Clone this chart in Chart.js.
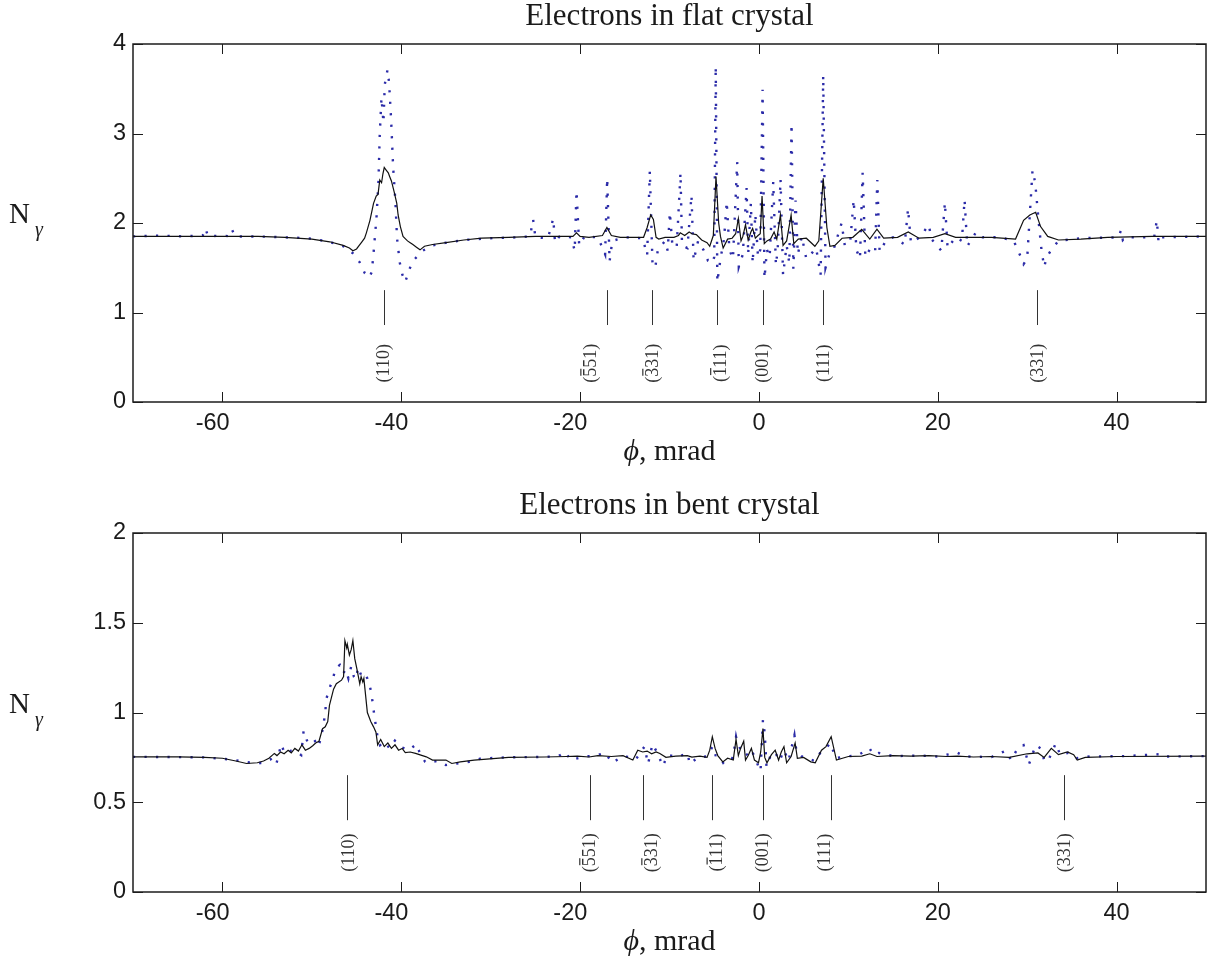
<!DOCTYPE html>
<html>
<head>
<meta charset="utf-8">
<script src="https://cdn.jsdelivr.net/npm/chart.js@4.4.1/dist/chart.umd.min.js"></script>
<style>
  html, body { margin: 0; padding: 0; background: #fff; }
  #wrap { position: relative; width: 1208px; height: 960px; }
  .panel { position: absolute; left: 0; width: 1208px; height: 480px; }
  #top { top: 0; }
  #bot { top: 480px; }
</style>
</head>
<body>
<div id="wrap">
  <div class="panel" id="top"><canvas id="flat" width="1208" height="480"></canvas></div>
  <div class="panel" id="bot"><canvas id="bent" width="1208" height="480"></canvas></div>
</div>
<script>
// axis ticks
const xTicks = [-60, -40, -20, 0, 20, 40];
const flatYTicks = [0, 1, 2, 3, 4];
const bentYTicks = [0, 0.5, 1, 1.5, 2];

// crystal planes, same order in both panels
const planeNames = ['(110)', '(551)', '(331)', '(111)', '(001)', '(111)', '(331)'];
const planeBars = [-1, 1, 1, 1, -1, -1, -1];   // char index carrying an overbar
const flatPlaneX = [-41.95, -17.0, -12.0, -4.72, 0.45, 7.22, 31.07];
const flatLabelX = [-41.87, -18.75, -11.82, -4.23, 0.53, 7.33, 31.23];
const bentPlaneX = [-46.03, -18.94, -12.97, -5.22, 0.45, 8.08, 34.08];
const bentLabelX = [-45.83, -18.87, -11.93, -4.63, 0.53, 7.37, 34.28];

// flat crystal: solid (black) and dotted (blue) curves, [phi, N]
const flatLine = [
  [-70,1.85],[-65,1.85],[-60,1.85],[-56,1.85],[-53,1.84],[-50,1.82],[-48,1.79],[-46.5,1.75],
  [-45.8,1.72],[-45.4,1.69],[-45.0,1.71],[-44.7,1.75],[-44.4,1.79],[-44.1,1.83],[-43.9,1.89],
  [-43.5,2.03],[-43.1,2.22],[-42.8,2.30],[-42.6,2.32],[-42.4,2.48],[-42.2,2.45],[-42.05,2.55],
  [-41.9,2.62],[-41.75,2.60],[-41.6,2.58],[-41.45,2.56],[-41.3,2.52],[-41.1,2.47],[-40.8,2.35],
  [-40.5,2.22],[-40.35,2.09],[-40.1,1.96],[-39.8,1.85],[-39.5,1.82],[-39.3,1.80],[-39.0,1.78],
  [-38.7,1.76],[-38.3,1.73],[-37.9,1.70],[-37.4,1.74],[-36.5,1.76],[-35,1.78],[-33,1.81],
  [-31,1.83],[-28,1.84],[-25,1.85],[-22,1.85],[-20.8,1.85],[-20.4,1.89],[-20.0,1.85],[-19,1.84],
  [-17.5,1.86],[-17.0,1.95],[-16.5,1.86],[-15.5,1.84],[-14,1.84],[-12.9,1.84],[-12.5,1.95],
  [-12.1,2.09],[-11.8,2.04],[-11.5,1.84],[-11.2,1.82],[-10.5,1.84],[-9.5,1.84],[-9.0,1.86],
  [-8.8,1.89],[-8.3,1.86],[-7.8,1.90],[-7.5,1.88],[-7.0,1.87],[-6.4,1.81],[-5.8,1.78],[-5.5,1.74],
  [-5.1,1.86],[-4.8,2.52],[-4.5,2.0],[-4.3,1.85],[-4.0,1.72],[-3.5,1.82],[-3.0,1.83],[-2.6,1.88],
  [-2.3,2.05],[-2.0,1.80],[-1.8,1.85],[-1.5,1.98],[-1.2,1.81],[-0.9,1.90],[-0.7,1.94],[-0.4,1.83],
  [-0.1,1.86],[0.15,1.88],[0.35,2.30],[0.6,1.77],[0.9,1.80],[1.3,1.82],[1.7,1.90],[2.0,1.82],
  [2.4,2.09],[2.7,1.75],[3.1,1.80],[3.6,2.09],[3.9,1.77],[4.4,1.82],[5.3,1.83],[6.26,1.74],
  [6.7,1.80],[7.19,2.50],[7.6,1.95],[7.94,1.74],[8.5,1.75],[9.3,1.83],[10.5,1.84],[11.5,1.93],
  [12.4,1.82],[13.2,1.93],[13.95,1.83],[15.5,1.84],[16.7,1.90],[17.9,1.83],[19.5,1.84],[20.8,1.88],
  [22,1.84],[24,1.84],[26,1.84],[28.7,1.82],[29.6,2.03],[30.3,2.09],[30.95,2.12],[31.5,1.96],
  [32.3,1.85],[33.5,1.81],[36,1.82],[39,1.84],[44,1.85],[50,1.85]
];
const flatDots = [
  [-70,1.85],[-67,1.86],[-64.5,1.85],[-62.2,1.86],[-61.9,1.94],[-61.6,1.85],[-60,1.86],[-59.1,1.85],
  [-58.9,1.92],[-58.6,1.85],[-56,1.85],[-53,1.84],[-50.5,1.83],[-48.5,1.80],[-47,1.76],[-46.2,1.73],
  [-45.4,1.66],[-44.64,1.56],[-44.08,1.44],[-43.6,1.39],[-43.3,1.45],[-43.1,1.66],[-42.77,2.06],
  [-42.55,2.46],[-42.4,3.0],[-42.21,3.40],[-41.99,3.12],[-41.84,3.55],[-41.54,3.71],[-41.36,3.57],
  [-41.14,3.17],[-40.91,2.63],[-40.65,2.23],[-40.47,1.83],[-40.17,1.56],[-39.9,1.43],[-39.55,1.34],
  [-39.3,1.42],[-39.16,1.47],[-38.56,1.59],[-37.6,1.69],[-36.5,1.75],[-35,1.78],[-33,1.81],
  [-30,1.83],[-27,1.84],[-25.6,1.85],[-25.25,2.04],[-25.0,1.84],[-23.6,1.83],[-23.0,2.05],
  [-22.8,1.78],[-22.3,1.85],[-21,1.84],[-20.6,1.69],[-20.4,2.36],[-20.1,1.75],[-19.5,1.85],
  [-18.0,1.84],[-17.2,1.65],[-16.97,2.50],[-16.7,1.57],[-16.4,1.80],[-15,1.84],[-13,1.83],
  [-12.5,1.64],[-12.2,2.58],[-11.9,1.54],[-11.6,1.50],[-11.3,1.70],[-10.5,1.80],[-10.2,1.69],
  [-9.96,2.12],[-9.7,1.78],[-9.2,1.72],[-8.77,2.56],[-8.6,1.75],[-8.0,1.72],[-7.54,2.31],
  [-7.3,1.58],[-6.8,1.80],[-6.2,1.70],[-5.7,1.58],[-5.2,1.55],[-5.0,1.62],[-4.83,3.75],
  [-4.65,1.34],[-4.3,1.60],[-3.9,1.82],[-3.6,2.24],[-3.3,1.70],[-2.9,1.60],[-2.43,2.68],
  [-2.25,1.51],[-1.8,1.65],[-1.38,2.39],[-1.2,1.65],[-0.9,2.22],[-0.7,1.55],[-0.4,2.10],
  [-0.1,1.62],[0.15,1.70],[0.41,3.49],[0.62,1.38],[0.9,1.70],[1.2,1.62],[1.6,2.46],[1.9,1.53],
  [2.1,1.70],[2.42,2.49],[2.7,1.42],[3.1,1.75],[3.4,1.55],[3.65,3.11],[3.85,1.49],[4.1,2.25],
  [4.35,1.65],[4.8,1.85],[5.3,1.60],[5.8,1.65],[6.4,1.72],[6.9,1.42],[7.19,3.65],[7.45,1.50],
  [7.9,1.66],[8.4,1.72],[9.25,2.0],[9.6,1.75],[10.2,1.78],[10.6,2.26],[10.9,1.70],[11.3,1.60],
  [11.6,2.56],[11.9,1.62],[12.5,1.72],[13.0,1.68],[13.24,2.48],[13.5,1.68],[14.2,1.80],[15,1.84],
  [16.3,1.76],[16.68,2.16],[17.0,1.78],[18,1.84],[19.0,1.98],[19.3,1.82],[20.4,1.69],[20.8,2.23],
  [21.1,1.72],[22,1.84],[22.7,1.80],[23.0,2.26],[23.3,1.74],[24.3,1.90],[25,1.84],[27,1.84],
  [28.5,1.80],[29.3,1.62],[29.6,1.54],[30.0,1.60],[30.3,2.10],[30.6,2.59],[30.9,2.45],[31.3,2.00],
  [31.6,1.70],[31.9,1.51],[32.2,1.62],[32.7,1.70],[33.5,1.80],[36,1.83],[40.2,1.84],[40.5,1.92],
  [40.7,1.81],[41,1.84],[44.2,1.84],[44.5,2.03],[44.7,1.78],[45,1.84],[50,1.85]
];

// bent crystal
const bentLine = [
  [-70,0.753],[-65,0.753],[-62,0.75],[-60,0.745],[-58.5,0.73],[-57.3,0.716],[-56.1,0.72],
  [-55.4,0.73],[-54.8,0.745],[-54.19,0.772],[-53.9,0.76],[-53.5,0.78],[-53.1,0.77],[-52.65,0.79],
  [-52.3,0.775],[-51.9,0.80],[-51.5,0.785],[-51.11,0.82],[-50.72,0.79],[-50.3,0.80],[-49.9,0.815],
  [-49.57,0.83],[-49.2,0.84],[-48.8,0.91],[-48.5,0.92],[-48.22,0.95],[-48.03,1.04],[-47.57,1.13],
  [-47.26,1.16],[-46.68,1.18],[-46.45,1.20],[-46.3,1.40],[-46.1,1.36],[-46.03,1.38],[-45.8,1.32],
  [-45.6,1.35],[-45.41,1.40],[-45.2,1.30],[-44.95,1.24],[-44.64,1.16],[-44.49,1.20],[-44.3,1.17],
  [-44.18,1.19],[-43.79,1.0],[-43.41,0.95],[-43.1,0.92],[-42.83,0.89],[-42.64,0.82],[-42.3,0.85],
  [-41.9,0.81],[-41.5,0.83],[-41.1,0.80],[-40.7,0.82],[-40.3,0.79],[-39.9,0.80],[-39.55,0.776],
  [-39,0.78],[-38.4,0.772],[-37.2,0.753],[-36.5,0.735],[-35.0,0.735],[-34.35,0.716],[-33.4,0.725],
  [-31.85,0.735],[-28,0.75],[-24,0.752],[-21.5,0.755],[-20.3,0.757],[-19,0.752],[-18,0.76],
  [-16.5,0.755],[-15.2,0.76],[-14.1,0.735],[-13.55,0.79],[-13.0,0.78],[-12.5,0.785],[-12,0.77],
  [-11.5,0.78],[-11.08,0.772],[-10.4,0.75],[-9.3,0.757],[-8.0,0.76],[-7.5,0.752],[-6.6,0.757],
  [-5.8,0.75],[-5.5,0.79],[-5.21,0.865],[-4.9,0.80],[-4.6,0.76],[-4.04,0.725],[-3.5,0.745],
  [-2.87,0.735],[-2.56,0.85],[-2.3,0.76],[-2.05,0.80],[-1.7,0.84],[-1.5,0.735],[-1.2,0.76],
  [-0.84,0.80],[-0.5,0.735],[-0.05,0.72],[0.2,0.78],[0.45,0.91],[0.65,0.75],[0.9,0.72],[1.4,0.765],
  [1.82,0.79],[2.2,0.735],[2.5,0.78],[2.8,0.81],[3.1,0.72],[3.6,0.755],[4.05,0.83],[4.3,0.745],
  [5.0,0.75],[5.8,0.725],[6.3,0.72],[7.0,0.79],[7.5,0.81],[8.08,0.865],[8.67,0.735],[10,0.755],
  [11.5,0.757],[12.4,0.77],[13.2,0.755],[15,0.76],[17,0.757],[19,0.76],[21,0.755],[22.2,0.757],
  [24,0.752],[26,0.755],[28,0.75],[30,0.77],[31.2,0.775],[31.9,0.75],[32.7,0.80],[33.5,0.765],
  [34.5,0.78],[35.2,0.765],[35.6,0.735],[36.5,0.75],[40,0.755],[50,0.757]
];
const bentDots = [
  [-70,0.753],[-66,0.752],[-62,0.75],[-59,0.738],[-57,0.722],[-55.5,0.718],[-54.6,0.74],[-54.0,0.707],
  [-53.42,0.824],[-53.04,0.772],[-52.2,0.79],[-51.7,0.78],[-51.19,0.763],[-50.92,0.897],[-50.46,0.832],
  [-49.76,0.85],[-49.26,0.809],[-48.91,0.874],[-48.68,0.94],[-48.49,1.0],[-48.41,1.07],[-48.03,1.135],
  [-47.64,1.185],[-47.37,1.246],[-46.87,1.265],[-46.49,1.218],[-46.2,1.24],[-45.91,1.19],[-45.6,1.256],
  [-45.3,1.2],[-45.06,1.185],[-44.83,1.252],[-44.5,1.21],[-44.18,1.224],[-43.79,1.19],[-43.6,1.16],
  [-43.41,1.125],[-43.21,1.06],[-43.02,0.986],[-42.64,0.86],[-42.37,0.818],[-41.87,0.837],[-41.3,0.8],
  [-40.71,0.843],[-39.94,0.805],[-39.1,0.79],[-38.32,0.824],[-37.8,0.76],[-37.32,0.725],[-37.05,0.72],
  [-36,0.73],[-35.01,0.707],[-33.78,0.716],[-32.43,0.725],[-31.08,0.744],[-28,0.75],[-25,0.752],
  [-22.5,0.755],[-21.64,0.78],[-21.07,0.735],[-19.5,0.755],[-18.2,0.76],[-17.2,0.776],[-16.4,0.72],
  [-15.2,0.757],[-14.3,0.75],[-13.75,0.74],[-12.8,0.81],[-12.4,0.713],[-11.9,0.824],[-11.3,0.77],
  [-10.75,0.70],[-10.2,0.765],[-9.2,0.752],[-7.95,0.772],[-7.76,0.713],[-6.8,0.75],[-5.8,0.755],
  [-5.2,0.809],[-5.02,0.763],[-4.5,0.76],[-4.0,0.72],[-3.4,0.75],[-2.9,0.745],[-2.56,0.865],
  [-2.4,0.828],[-2.0,0.79],[-1.6,0.76],[-1.2,0.77],[-0.84,0.794],[-0.4,0.74],[0.18,0.673],
  [0.45,0.958],[0.65,0.884],[0.85,0.698],[1.3,0.76],[1.8,0.78],[2.3,0.73],[2.8,0.79],[3.3,0.73],
  [3.97,0.874],[4.2,0.78],[4.8,0.755],[5.6,0.74],[6.3,0.73],[6.71,0.763],[6.9,0.78],[7.49,0.80],
  [8.0,0.83],[8.6,0.745],[9.5,0.755],[11,0.76],[12.38,0.80],[12.8,0.765],[13.4,0.775],[15,0.757],
  [18,0.76],[20,0.755],[22.2,0.776],[23,0.755],[26,0.752],[27.6,0.787],[28.2,0.735],[29.0,0.806],
  [29.6,0.818],[30.17,0.707],[30.95,0.818],[31.5,0.80],[31.9,0.735],[32.3,0.725],[33.2,0.828],
  [33.7,0.763],[34.6,0.775],[35.5,0.745],[37,0.755],[41,0.757],[45.0,0.768],[45.3,0.755],[50,0.757]
];

const SERIF = '"Liberation Serif", "DejaVu Serif", serif';

// box, inward ticks, plane markers and all the serif texts
const crystalPlugin = {
  id: 'crystal',
  afterDatasetsDraw(chart, args, o) {
    const { ctx, chartArea: a, scales: { x, y } } = chart;
    ctx.save();
    ctx.strokeStyle = '#1c1c1c';
    ctx.lineWidth = 1;
    ctx.beginPath();
    x.ticks.forEach(t => {
      const px = Math.round(x.getPixelForValue(t.value)) + 0.5;
      ctx.moveTo(px, a.bottom); ctx.lineTo(px, a.bottom - 10);
      ctx.moveTo(px, a.top); ctx.lineTo(px, a.top + 10);
    });
    y.ticks.forEach(t => {
      const py = Math.round(y.getPixelForValue(t.value)) + 0.5;
      ctx.moveTo(a.left, py); ctx.lineTo(a.left + 10, py);
      ctx.moveTo(a.right, py); ctx.lineTo(a.right - 10, py);
    });
    ctx.stroke();
    ctx.lineWidth = 1.5;
    ctx.strokeRect(a.left, a.top, a.right - a.left, a.bottom - a.top);

    // plane markers
    ctx.strokeStyle = '#333';
    ctx.fillStyle = '#333';
    ctx.lineWidth = 1;
    o.lineX.forEach((v, i) => {
      const px = Math.round(x.getPixelForValue(v)) + 0.5;
      ctx.beginPath();
      ctx.moveTo(px, y.getPixelForValue(o.from));
      ctx.lineTo(px, y.getPixelForValue(o.to));
      ctx.stroke();
      const name = planeNames[i], bar = planeBars[i];
      ctx.save();
      ctx.translate(x.getPixelForValue(o.labelX[i]), y.getPixelForValue(o.labelY));
      ctx.rotate(-Math.PI / 2);
      ctx.font = '18px ' + SERIF;
      ctx.textAlign = 'center';
      ctx.textBaseline = 'middle';
      ctx.fillText(name, 0, 0);
      if (bar >= 0) {
        const w = ctx.measureText(name).width;
        const x0 = -w / 2 + ctx.measureText(name.slice(0, bar)).width;
        const cw = ctx.measureText(name[bar]).width;
        ctx.fillRect(x0 + 1, -11, cw - 2, 1.2);
      }
      ctx.restore();
    });

    const cx = (a.left + a.right) / 2;
    ctx.fillStyle = '#1a1a1a';
    ctx.textBaseline = 'alphabetic';
    // title
    ctx.font = '31px ' + SERIF;
    ctx.textAlign = 'center';
    ctx.fillText(o.title, cx, a.top - 19);
    // x title: italic phi + ", mrad"
    ctx.textAlign = 'left';
    ctx.font = 'italic 30px ' + SERIF;
    const w1 = ctx.measureText('\u03d5').width;
    ctx.font = '30px ' + SERIF;
    const w2 = ctx.measureText(', mrad').width;
    const x0 = cx - (w1 + w2) / 2;
    const by = a.bottom + 58;
    ctx.font = 'italic 30px ' + SERIF;
    ctx.fillText('\u03d5', x0, by);
    ctx.font = '30px ' + SERIF;
    ctx.fillText(', mrad', x0 + w1, by);
    // y title N_gamma
    const my = (a.top + a.bottom) / 2;
    ctx.font = '29px ' + SERIF;
    ctx.fillText('N', 9, my);
    ctx.font = 'italic 20px ' + SERIF;
    ctx.fillText('\u03b3', 35, my + 13);
    ctx.restore();
  }
};

function makeChart(id, cfg) {
  const tickFont = { family: '"Liberation Sans", Arial, sans-serif', size: 23.5 };
  return new Chart(document.getElementById(id), {
    type: 'line',
    data: {
      datasets: [
        { data: cfg.line, borderColor: '#111', borderWidth: 1.2, pointRadius: 0, tension: 0 },
        { data: cfg.dots, borderColor: '#2b2ba8', borderWidth: 2.4, borderDash: [2.2, 9.3],
          pointRadius: 0, tension: 0 }
      ]
    },
    options: {
      responsive: false,
      animation: false,
      events: [],
      layout: { padding: { left: 33, right: 2, top: cfg.padTop, bottom: cfg.padBottom } },
      plugins: {
        legend: { display: false },
        tooltip: { enabled: false },
        crystal: {
          title: cfg.title, lineX: cfg.planeX, labelX: cfg.labelX,
          from: cfg.from, to: cfg.to, labelY: cfg.labelY
        }
      },
      scales: {
        x: {
          type: 'linear', min: -70, max: 50,
          grid: { display: false, drawTicks: false },
          border: { display: false },
          afterBuildTicks: s => { s.ticks = xTicks.map(v => ({ value: v })); },
          afterFit: s => { s.height = 40; },
          ticks: {
            font: tickFont, color: '#1a1a1a', padding: 7, maxRotation: 0, autoSkip: false,
            callback: v => v < 0 ? v + '   ' : String(v)
          }
        },
        y: {
          type: 'linear', min: 0, max: cfg.yMax,
          grid: { display: false, drawTicks: false },
          border: { display: false },
          afterBuildTicks: s => { s.ticks = cfg.yTicks.map(v => ({ value: v })); },
          afterFit: s => { s.width = 100; },
          ticks: { font: tickFont, color: '#1a1a1a', padding: 7, callback: v => String(v) }
        }
      }
    },
    plugins: [crystalPlugin]
  });
}

makeChart('flat', {
  title: 'Electrons in flat crystal', line: flatLine, dots: flatDots,
  yMax: 4, yTicks: flatYTicks, padTop: 44, padBottom: 38,
  planeX: flatPlaneX, labelX: flatLabelX, from: 1.25, to: 0.86, labelY: 0.433
});
makeChart('bent', {
  title: 'Electrons in bent crystal', line: bentLine, dots: bentDots,
  yMax: 2, yTicks: bentYTicks, padTop: 53, padBottom: 28,
  planeX: bentPlaneX, labelX: bentLabelX, from: 0.651, to: 0.40, labelY: 0.219
});
</script>
</body>
</html>
